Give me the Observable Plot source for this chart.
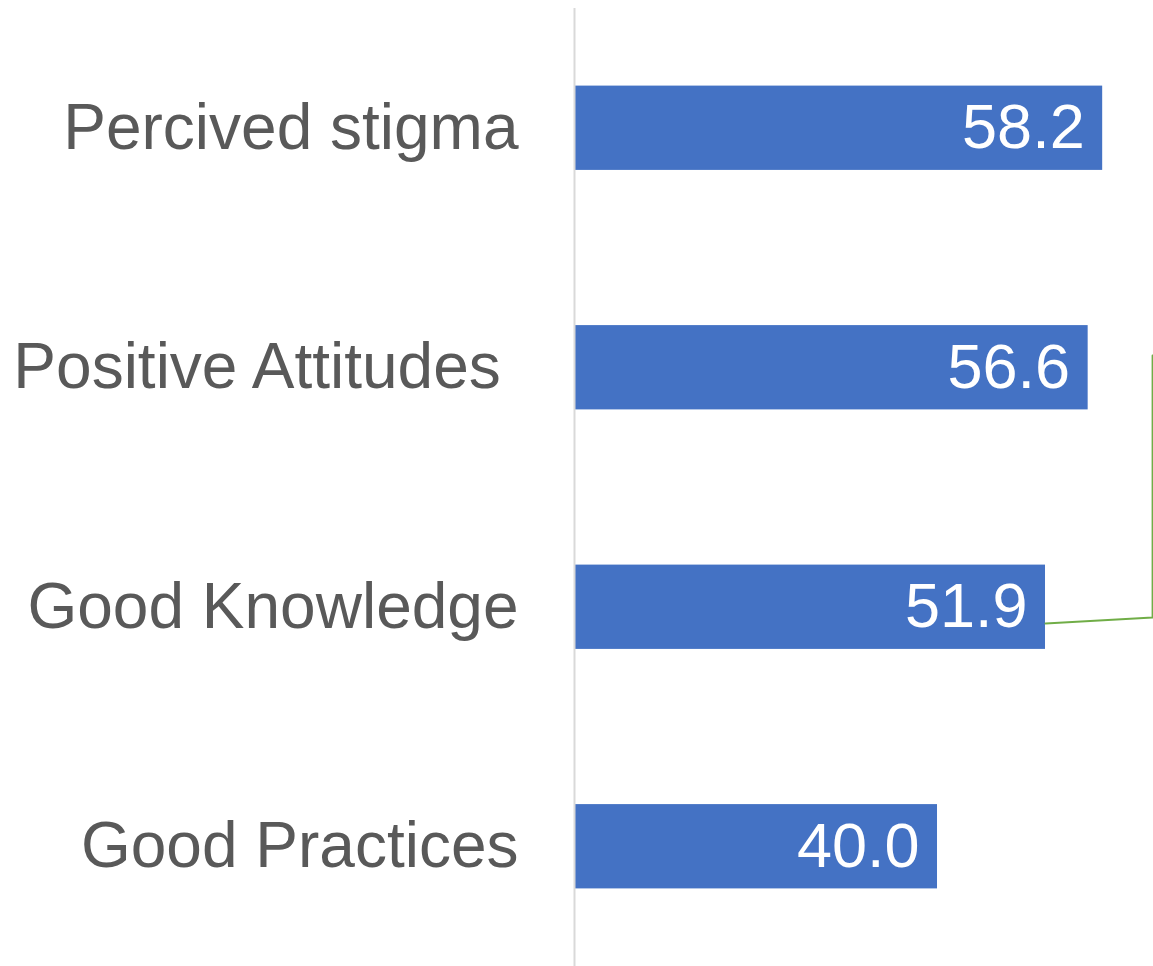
<!DOCTYPE html>
<html>
<head>
<meta charset="utf-8">
<script src="https://cdn.jsdelivr.net/npm/d3@7"></script>
<script src="https://cdn.jsdelivr.net/npm/@observablehq/plot@0.6"></script>
<style>
  html, body { margin: 0; padding: 0; background: #ffffff; }
  #chart { width: 1153px; height: 966px; }
  #chart svg text { white-space: pre; }
</style>
</head>
<body>
<div id="chart"></div>
<script>
// Categories (top to bottom) and their values (%)
const categories = ["Percived stigma", "Positive Attitudes ", "Good Knowledge", "Good Practices"];
const values = [58.2, 56.6, 51.9, 40.0];

// Green leader line (Excel artefact) in data units: x = value, y = category index
const connectorX = [51.9, 63.7, 63.7];
const connectorY = [2.068, 2.043, 0.949];

const data = categories.map((c, i) => ({category: c, i, value: values[i]}));
const connector = connectorX.map((x, k) => ({x, y: connectorY[k]}));

const chart = Plot.plot({
  width: 1153,
  height: 966,
  marginLeft: 574,
  marginRight: 0,
  marginTop: 8,
  marginBottom: 0,
  style: {fontFamily: "'Liberation Sans', Arial, sans-serif", color: "#595959", background: "#ffffff"},
  x: {domain: [0, 63.8], axis: null},
  y: {domain: [-0.5, 3.5], reverse: true, axis: null},
  marks: [
    Plot.rectX(data, {x: "value", y1: d => d.i - 0.176, y2: d => d.i + 0.176, fill: "#4472c4", insetLeft: 1}),
    Plot.ruleX([0], {stroke: "#d9d9d9", strokeWidth: 2}),
    Plot.axisY({
      ticks: d3.range(categories.length),
      tickFormat: i => categories[i],
      tickSize: 0,
      tickPadding: 56,
      fontSize: 64,
      label: null
    }),
    Plot.text(data, {
      x: "value", y: "i", text: d => d.value.toFixed(1),
      textAnchor: "end", dx: -18, fill: "white", fontSize: 63
    }),
    Plot.line(connector, {x: "x", y: "y", stroke: "#70ad47", strokeWidth: 2})
  ]
});
document.getElementById("chart").appendChild(chart);
</script>
</body>
</html>
